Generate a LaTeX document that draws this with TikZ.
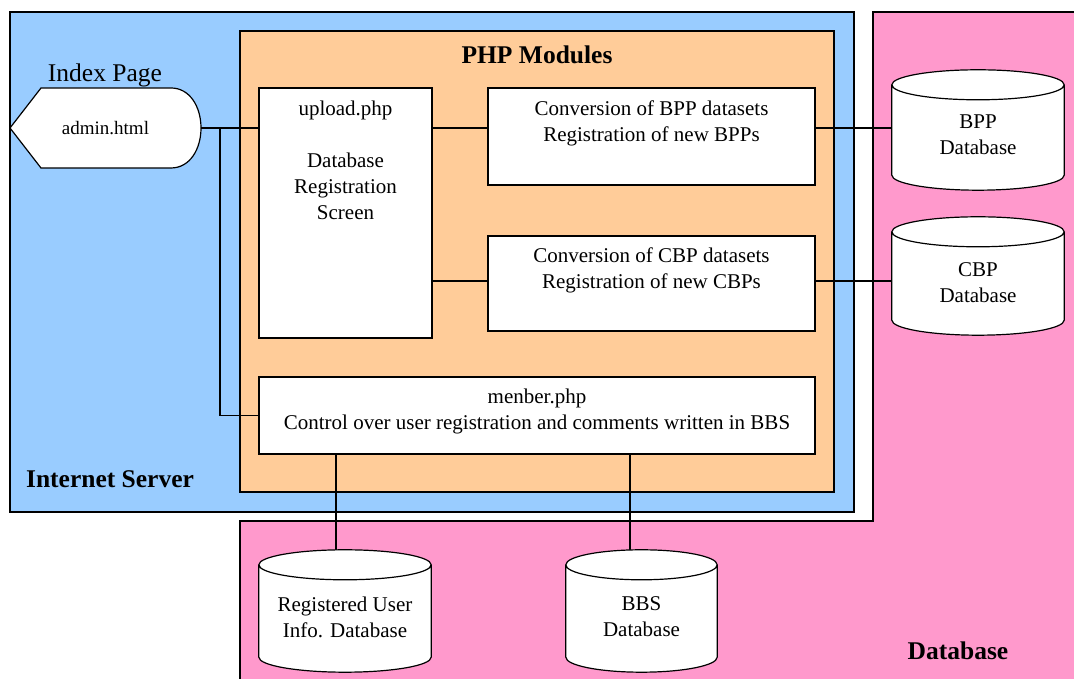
\documentclass[tikz,border=0pt]{standalone}
\usepackage{fontspec}
\setmainfont{Liberation Serif}
\usetikzlibrary{calc}
\definecolor{serverblue}{HTML}{99CCFF}
\definecolor{phporange}{HTML}{FFCC99}
\definecolor{dbpink}{HTML}{FF99CC}
\tikzset{
  frame/.style={draw=black, line width=1.2pt},
  box/.style={draw=black, line width=1.2pt, fill=white, inner sep=0pt},
  anchorbox/.style={inner sep=0pt},
  body/.style={font=\fontsize{21}{26}\selectfont, align=center, inner sep=0pt},
  heading/.style={font=\fontsize{25.5}{30}\selectfont\bfseries, inner sep=0pt},
  wire/.style={draw=black, line width=1.2pt},
}
% draws a database cylinder over the rectangle of node #1
\newcommand\dbcylinder[1]{%
  \path let \p1=(#1.north west), \p2=(#1.south east), \n1={(\x2-\x1)/2} in
    [frame, fill=white]
    (\x1,\y1-15pt) -- (\x1,\y2+15pt)
      arc[start angle=180, end angle=360, x radius=\n1, y radius=15pt]
      -- (\x2,\y1-15pt)
      arc[start angle=0, end angle=180, x radius=\n1, y radius=15pt]
      -- cycle
    (\x1,\y1-15pt)
      arc[start angle=180, end angle=360, x radius=\n1, y radius=15pt];
}
\begin{document}
\begin{tikzpicture}[x=1pt, y=1pt]
\useasboundingbox (0,0) rectangle (1074,679);
\clip (0,0) rectangle (1074,679);

% regions
\draw[frame, fill=serverblue] (10,167) rectangle (854,667);
\draw[frame, fill=dbpink] (873,667) -- (1090,667) -- (1090,-10) -- (240,-10)
  -- (240,158) -- (873,158) -- cycle;
\draw[frame, fill=phporange] (240,187) rectangle (834,648);

% region titles
\node[heading] (phptitle) at (537,624) {PHP Modules};
\node[heading] (servertitle) at (110,200) {Internet Server};
\node[heading] (dbtitle) at (958,28) {Database};

% index page
\draw[frame, fill=white] (10,551) -- (41,591) -- (171,591)
  .. controls (190,591) and (201,572) .. (201,551)
  .. controls (201,530) and (190,511) .. (171,511) -- (41,511) -- cycle;
\node[anchorbox, minimum width=191pt, minimum height=80pt, font=\fontsize{19}{23}\selectfont] (admin) at (105.5,551) {admin.html};
\node[font=\fontsize{25.5}{30}\selectfont, inner sep=0pt] (indexlabel) at (105,604) {Index Page};

% PHP modules
\node[box, minimum width=173pt, minimum height=250pt] (upload) at (345.5,466) {};
\node[body] (uploadtxt) at (345.5,519) {upload.php\\[26pt]Database\\Registration\\Screen};
\node[box, minimum width=327pt, minimum height=97pt] (bppconv) at (651.5,542.5) {};
\node[body] (bppconvtxt) at (651.5,556) {Conversion of BPP datasets\\Registration of new BPPs};
\node[box, minimum width=327pt, minimum height=95pt] (cbpconv) at (651.5,395.5) {};
\node[body] (cbpconvtxt) at (651.5,409) {Conversion of CBP datasets\\Registration of new CBPs};
\node[box, minimum width=556pt, minimum height=77pt] (menber) at (537,263.5) {};
\node[body] (menbertxt) at (537,268) {menber.php\\Control over user registration and comments written in BBS};

% databases
\node[anchorbox, minimum width=172pt, minimum height=120pt] (bppdb) at (978,549) {};
\node[anchorbox, minimum width=172pt, minimum height=118pt] (cbpdb) at (978,403) {};
\node[anchorbox, minimum width=172pt, minimum height=122pt] (userdb) at (345,68) {};
\node[anchorbox, minimum width=151pt, minimum height=122pt] (bbsdb) at (641.5,68) {};

% connectors
\coordinate (split) at (220,551);
\draw[wire] (admin.east) -- (admin.east -| upload.west);
\draw[wire] (split) |- (menber.west);
\draw[wire] (upload.east |- admin.east) -- (bppconv.west |- admin.east);
\draw[wire] (upload.east |- 0,398) -- (cbpconv.west |- 0,398);
\draw[wire] (bppconv.east |- admin.east) -- (bppdb.west |- admin.east);
\draw[wire] (cbpconv.east |- 0,398) -- (cbpdb.west |- 0,398);
\draw[wire] (menber.south -| 336,0) -- (userdb.north -| 336,0);
\draw[wire] (menber.south -| 630,0) -- (bbsdb.north -| 630,0);

\dbcylinder{bppdb}
\dbcylinder{cbpdb}
\dbcylinder{userdb}
\dbcylinder{bbsdb}
\node[body] (bppdbtxt) at (978,544) {BPP\\Database};
\node[body] (cbpdbtxt) at (978,396) {CBP\\Database};
\node[body] (userdbtxt) at (345,62) {Registered User\\Info. Database};
\node[body] (bbsdbtxt) at (641.5,62) {BBS\\Database};
\end{tikzpicture}
\end{document}
